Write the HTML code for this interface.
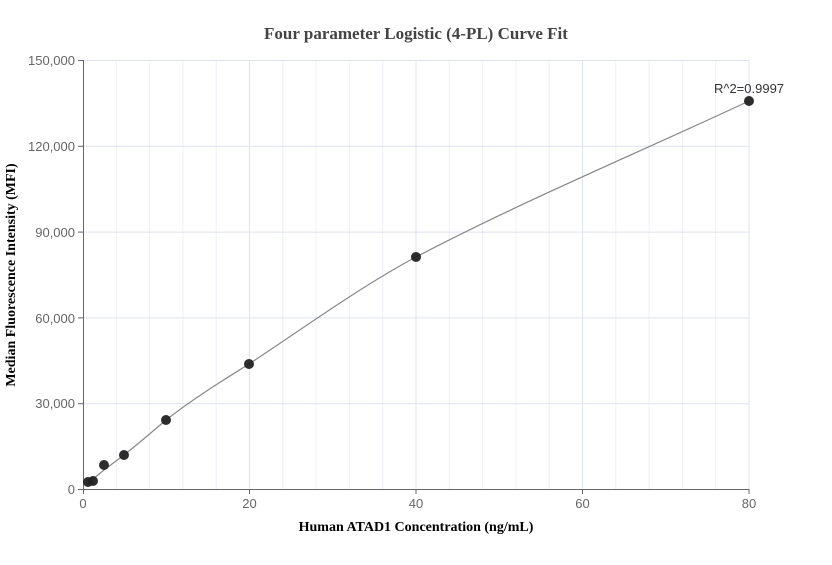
<!DOCTYPE html>
<html><head><meta charset="utf-8"><style>body{margin:0;background:#fff}</style></head><body>
<svg width="832" height="560" xmlns="http://www.w3.org/2000/svg" font-family="Liberation Sans, sans-serif">
<rect width="832" height="560" fill="#fff"/>
<text x="416" y="39" text-anchor="middle" font-family="Liberation Serif, serif" font-weight="bold" font-size="17" fill="#444">Four parameter Logistic (4-PL) Curve Fit</text>
<g stroke="#eef0f7" stroke-width="1">
<line x1="116.3" y1="60" x2="116.3" y2="489"/><line x1="149.6" y1="60" x2="149.6" y2="489"/><line x1="182.9" y1="60" x2="182.9" y2="489"/><line x1="216.2" y1="60" x2="216.2" y2="489"/>
<line x1="282.8" y1="60" x2="282.8" y2="489"/><line x1="316.1" y1="60" x2="316.1" y2="489"/><line x1="349.4" y1="60" x2="349.4" y2="489"/><line x1="382.7" y1="60" x2="382.7" y2="489"/>
<line x1="449.3" y1="60" x2="449.3" y2="489"/><line x1="482.6" y1="60" x2="482.6" y2="489"/><line x1="515.9" y1="60" x2="515.9" y2="489"/><line x1="549.2" y1="60" x2="549.2" y2="489"/>
<line x1="615.8" y1="60" x2="615.8" y2="489"/><line x1="649.1" y1="60" x2="649.1" y2="489"/><line x1="682.4" y1="60" x2="682.4" y2="489"/><line x1="715.7" y1="60" x2="715.7" y2="489"/>
</g>
<g stroke="#dfe3f0" stroke-width="1">
<line x1="249.5" y1="60" x2="249.5" y2="489"/><line x1="416" y1="60" x2="416" y2="489"/><line x1="582.5" y1="60" x2="582.5" y2="489"/><line x1="749" y1="60" x2="749" y2="489"/>
<line x1="83" y1="60.5" x2="749" y2="60.5"/><line x1="83" y1="146.3" x2="749" y2="146.3"/><line x1="83" y1="232.1" x2="749" y2="232.1"/><line x1="83" y1="317.9" x2="749" y2="317.9"/><line x1="83" y1="403.7" x2="749" y2="403.7"/>
</g>
<g stroke="#666" stroke-width="1">
<line x1="83.5" y1="60" x2="83.5" y2="489"/><line x1="83" y1="489.5" x2="749" y2="489.5"/>
<line x1="78" y1="60.5" x2="83" y2="60.5"/><line x1="78" y1="146.3" x2="83" y2="146.3"/><line x1="78" y1="232.1" x2="83" y2="232.1"/><line x1="78" y1="317.9" x2="83" y2="317.9"/><line x1="78" y1="403.7" x2="83" y2="403.7"/><line x1="78" y1="489.5" x2="83" y2="489.5"/>
<line x1="83.5" y1="489" x2="83.5" y2="494"/><line x1="249.5" y1="489" x2="249.5" y2="494"/><line x1="416" y1="489" x2="416" y2="494"/><line x1="582.5" y1="489" x2="582.5" y2="494"/><line x1="749" y1="489" x2="749" y2="494"/>
</g>
<g font-size="13" fill="#666" text-anchor="end">
<text x="75" y="65">150,000</text><text x="75" y="151">120,000</text><text x="75" y="237">90,000</text><text x="75" y="323">60,000</text><text x="75" y="408">30,000</text><text x="75" y="494">0</text>
</g>
<g font-size="13" fill="#666" text-anchor="middle">
<text x="83" y="508">0</text><text x="249.5" y="508">20</text><text x="416" y="508">40</text><text x="582.5" y="508">60</text><text x="749" y="508">80</text>
</g>
<text x="416" y="531" text-anchor="middle" font-family="Liberation Serif, serif" font-weight="bold" font-size="14" fill="#000">Human ATAD1 Concentration (ng/mL)</text>
<text transform="translate(15,275) rotate(-90)" text-anchor="middle" font-family="Liberation Serif, serif" font-weight="bold" font-size="14" fill="#000">Median Fluorescence Intensity (MFI)</text>
<path d="M86,484 L93,479 L104,470 L124,455 C138,444 152,432 166,420 C194,398 222,381 249,364 C305,327 360,287 416,257 C527,199 638,153 749,101" fill="none" stroke="#888" stroke-width="1.2"/>
<g fill="#222" fill-opacity="0.95">
<circle cx="88" cy="482" r="5"/><circle cx="93" cy="481" r="5"/><circle cx="104" cy="465" r="5"/><circle cx="124" cy="455" r="5"/><circle cx="166" cy="420" r="5"/><circle cx="249" cy="364" r="5"/><circle cx="416" cy="257" r="5"/><circle cx="749" cy="101" r="5"/>
</g>
<text x="749" y="93" text-anchor="middle" font-size="13" fill="#333">R^2=0.9997</text>
</svg>
</body></html>
